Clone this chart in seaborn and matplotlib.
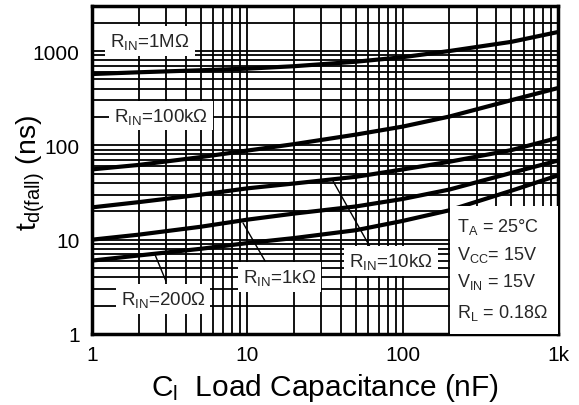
import numpy as np
import pandas as pd
import matplotlib
matplotlib.use("Agg")
import matplotlib.pyplot as plt
import matplotlib.ticker as mticker
from matplotlib.patches import Rectangle
import seaborn as sns

# ---- data ----
cap_nF = [1, 2, 5, 10, 20, 50, 100, 200, 500, 1000]
td_1M = [570, 595, 625, 650, 690, 770, 860, 1000, 1250, 1590]
td_100k = [55.6, 62, 75, 88, 103, 130, 158, 202, 301, 405]
td_10k = [22, 25, 30, 35, 39.4, 46.4, 55.5, 67, 89, 120]
td_1k = [10, 11.3, 13.7, 16.3, 18.9, 22.5, 27, 34, 51, 69]
td_200 = [6.0, 6.8, 8.0, 9.2, 10.4, 12.6, 15.8, 20.5, 33, 48]
series_names = ["1M", "100k", "10k", "1k", "200"]
x_ticks = [1, 10, 100, 1000]
x_ticklabels = ["1", "10", "100", "1k"]
y_ticks = [1, 10, 100, 1000]
y_ticklabels = ["1", "10", "100", "1000"]

df = pd.DataFrame({
    "C": cap_nF * 5,
    "td": td_1M + td_100k + td_10k + td_1k + td_200,
    "R": sum([[n] * len(cap_nF) for n in series_names], []),
})

sns.set_theme(style="white")
plt.rcParams["font.family"] = ["Liberation Sans", "DejaVu Sans"]
plt.rcParams["mathtext.fontset"] = "custom"
plt.rcParams["mathtext.rm"] = "Liberation Sans"
plt.rcParams["mathtext.it"] = "Liberation Sans"

fig = plt.figure(figsize=(5.79, 4.06), dpi=100)
ax = fig.add_axes([92 / 579, 1 - 335 / 406, 466 / 579, 328 / 406])

sns.lineplot(data=df, x="C", y="td", hue="R", palette=["black"] * 5,
             linewidth=3, legend=False, ax=ax, zorder=3, estimator=None)

ax.set_xscale("log")
ax.set_yscale("log")
ax.set_xlim(1, 1000)
ax.set_ylim(1, 3000)

ax.xaxis.set_major_locator(mticker.FixedLocator(x_ticks))
ax.xaxis.set_major_formatter(mticker.FixedFormatter(x_ticklabels))
ax.yaxis.set_major_locator(mticker.FixedLocator(y_ticks))
ax.yaxis.set_major_formatter(mticker.FixedFormatter(y_ticklabels))
ax.xaxis.set_minor_locator(mticker.LogLocator(base=10, subs=np.arange(2, 10), numticks=20))
ax.yaxis.set_minor_locator(mticker.LogLocator(base=10, subs=np.arange(2, 10), numticks=20))
ax.xaxis.set_minor_formatter(mticker.NullFormatter())
ax.yaxis.set_minor_formatter(mticker.NullFormatter())

ax.grid(True, which="both", color="black", linewidth=1.3)
ax.set_axisbelow(True)
ax.tick_params(which="both", length=0, labelsize=15, colors="black")
ax.tick_params(axis="x", pad=8)
ax.tick_params(axis="y", pad=9)
for s in ax.spines.values():
    s.set_color("black")
    s.set_linewidth(2.5)

ax.set_xlabel(r"C$_\mathregular{l}$  Load Capacitance (nF)", fontsize=21.5, color="black", labelpad=5)
ax.set_ylabel(r"t$_\mathregular{d(fall)}$ (ns)", fontsize=20.5, color="black")
ax.yaxis.set_label_coords(-0.097, 0.495)

box = dict(facecolor="white", edgecolor="none", pad=3.5)
fs = 13.5
ax.text(1.31, 1138, r"R$_\mathregular{IN}$=1M$\Omega$", fontsize=fs, ha="left", va="baseline", bbox=box, zorder=5)
ax.text(1.39, 183, r"R$_\mathregular{IN}$=100k$\Omega$", fontsize=fs, ha="left", va="baseline", bbox=box, zorder=5)
ax.text(1.53, 2.08, r"R$_\mathregular{IN}$=200$\Omega$", fontsize=fs, ha="left", va="baseline", bbox=box, zorder=5)
ax.text(9.39, 3.54, r"R$_\mathregular{IN}$=1k$\Omega$", fontsize=fs, ha="left", va="baseline", bbox=box, zorder=5)
ax.text(45.3, 5.30, r"R$_\mathregular{IN}$=10k$\Omega$", fontsize=fs, ha="left", va="baseline", bbox=box, zorder=5)

lp = dict(arrowstyle="-", lw=1.0, color="black", shrinkA=0, shrinkB=0)
ax.annotate("", xy=(2.55, 6.88), xytext=(2.99, 3.65), arrowprops=lp, zorder=4)
ax.annotate("", xy=(9.39, 15.0), xytext=(13.0, 5.95), arrowprops=lp, zorder=4)
ax.annotate("", xy=(35.6, 41.9), xytext=(61.7, 8.36), arrowprops=lp, zorder=4)

ax.add_patch(Rectangle((0.768, 0.0), 0.232, 0.39, transform=ax.transAxes,
                       facecolor="white", edgecolor="none", zorder=5))
cfs = 13
ax.text(225, 12.4, r"T$_\mathregular{A}$ = 25°C", fontsize=cfs, ha="left", va="baseline", zorder=6)
ax.text(225, 6.23, r"V$_\mathregular{CC}$= 15V", fontsize=cfs, ha="left", va="baseline", zorder=6)
ax.text(225, 3.25, r"V$_\mathregular{IN}$ = 15V", fontsize=cfs, ha="left", va="baseline", zorder=6)
ax.text(225, 1.50, r"R$_\mathregular{L}$ = 0.18$\Omega$", fontsize=cfs, ha="left", va="baseline", zorder=6)

fig.savefig("out.png", dpi=100, facecolor="white")
